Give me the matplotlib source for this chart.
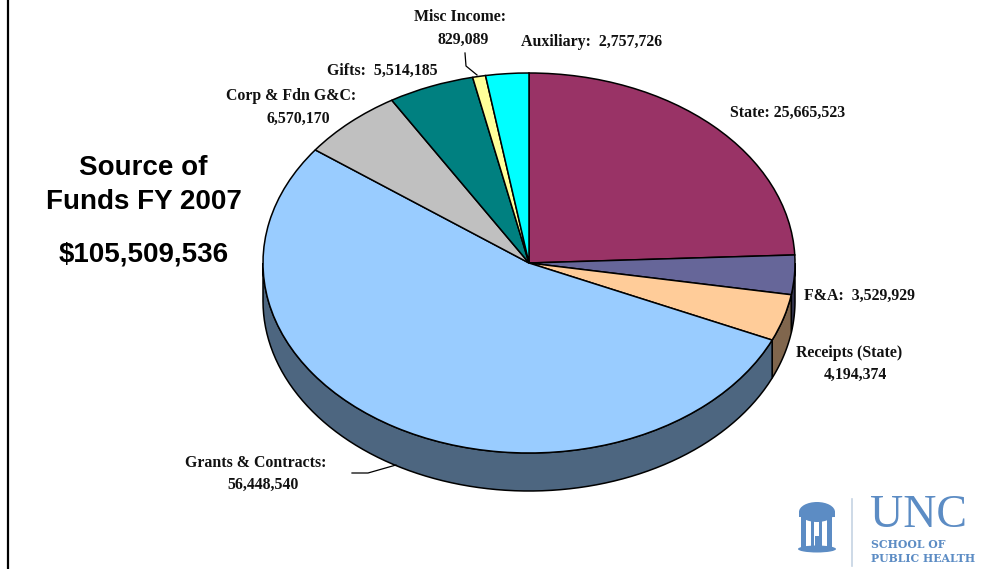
#!/usr/bin/env python

import numpy as np
import matplotlib
matplotlib.use('Agg')
import matplotlib.pyplot as plt
from matplotlib.patches import Polygon, Ellipse, Rectangle

names = ['State', 'F&A', 'Receipts (State)', 'Grants & Contracts',
         'Corp & Fdn G&C', 'Gifts', 'Misc Income', 'Auxiliary']
values = [25665523, 3529929, 4194374, 56448540, 6570170, 5514185, 829089, 2757726]
colors = ['#993366', '#666699', '#FFCC99', '#99CCFF', '#C0C0C0', '#008080', '#FFFF99', '#00FFFF']
wall_colors = ['#4d1a33', '#33334d', '#80664d', '#4d6680', '#606060', '#004040', '#80804d', '#008080']
value_labels = ['{:,}'.format(v) for v in values]
title_lines = ['Source of', 'Funds FY 2007', '$105,509,536']

W, H = 1003, 569
depth = 38 / 190  # side wall height in pie radius units

fig = plt.figure(figsize=(W / 100, H / 100), dpi=100)

# pie sits in its own axes, stretched to an ellipse for the tilted look
ax = fig.add_axes([263 / W, 1 - 453 / H, 532 / W, 380 / H])
wedges, _ = ax.pie(values, colors=colors, startangle=90, counterclock=False, radius=1,
                   wedgeprops={'edgecolor': 'black', 'linewidth': 1.1, 'zorder': 3})
ax.set_aspect('auto')
ax.set_xlim(-1, 1)
ax.set_ylim(-1, 1)
ax.axis('off')

# side wall, only the front half can be seen
angle = 90.0
for val, wc in zip(values, wall_colors):
    sweep = 360.0 * val / sum(values)
    a1 = angle - sweep
    angle = a1
    # move to the 180..360 range
    lo, hi = a1 % 360, (a1 % 360) + sweep
    lo, hi = max(lo, 180), min(hi, 360)
    if hi <= lo:
        continue
    t = np.radians(np.linspace(lo, hi, 80))
    x, y = np.cos(t), np.sin(t)
    pts = np.column_stack([np.r_[x, x[::-1]], np.r_[y, y[::-1] - depth]])
    ax.add_patch(Polygon(pts, closed=True, facecolor=wc, edgecolor='black', linewidth=1.1,
                         zorder=2, clip_on=False))
for w in wedges:
    w.set_clip_on(False)

# overlay in pixel coordinates for text and logo
ov = fig.add_axes([0, 0, 1, 1], facecolor='none')
ov.set_xlim(0, W)
ov.set_ylim(H, 0)
ov.axis('off')

ov.plot([8.5, 8.5], [0, H], color='black', lw=1.6)

serif = {'family': 'Liberation Serif', 'weight': 'bold', 'fontsize': 11.4, 'color': '#111111',
         'ha': 'center', 'va': 'center'}
ov.text(788, 113, names[0] + ': ' + value_labels[0], **serif)
ov.text(860, 296, names[1] + ':  ' + value_labels[1], **serif)
ov.text(849, 353, names[2], **serif)
ov.text(855, 375, value_labels[2], **serif)
ov.text(256, 463, names[3] + ':', **serif)
ov.text(263, 485, value_labels[3], **serif)
ov.text(291, 96, names[4] + ':', **serif)
ov.text(298, 119, value_labels[4], **serif)
ov.text(382, 71, names[5] + ':  ' + value_labels[5], **serif)
ov.text(460, 17, names[6] + ':', **serif)
ov.text(463, 40, value_labels[6], **serif)
ov.text(592, 42, names[7] + ':  ' + value_labels[7], **serif)

# leader lines
ov.plot([465, 466, 477], [53, 66, 75], color='black', lw=0.9, zorder=5)
ov.plot([352, 368, 396], [473, 473, 465], color='black', lw=0.9, zorder=5)

sans = {'family': 'Liberation Sans', 'weight': 'bold', 'fontsize': 20, 'color': 'black',
        'ha': 'center', 'va': 'center'}
ov.text(143.5, 168, title_lines[0], **sans)
ov.text(144, 202, title_lines[1], **sans)
ov.text(143.5, 254, title_lines[2], **sans)

# logo
blue = '#5c8cc4'
ov.plot([852, 852], [499, 566], color='#c5d3e3', lw=1.2)
ov.add_patch(Ellipse((817, 512), 36, 20, facecolor=blue, edgecolor='none'))
ov.add_patch(Rectangle((799, 512), 36, 5, facecolor=blue, edgecolor='none'))
ov.add_patch(Ellipse((817, 549), 38, 7, facecolor=blue, edgecolor='none'))
for cx, cw in zip([804, 813, 821, 830], [5, 3, 3, 5]):
    ov.add_patch(Rectangle((cx - cw / 2, 517), cw, 30, facecolor=blue, edgecolor='none'))
ov.add_patch(Rectangle((815, 536), 5, 10, facecolor=blue, edgecolor='none'))
ov.text(919, 516, 'UNC', family='Liberation Serif', fontsize=33, color=blue, ha='center', va='center')
logo_sub = {'family': 'DejaVu Serif', 'weight': 'bold', 'fontsize': 7.8, 'color': blue,
            'va': 'center', 'ha': 'left'}
ov.text(871, 544, 'SCHOOL OF', **logo_sub)
ov.text(871, 558, 'PUBLIC HEALTH', **logo_sub)

fig.savefig('out.png', dpi=100)
